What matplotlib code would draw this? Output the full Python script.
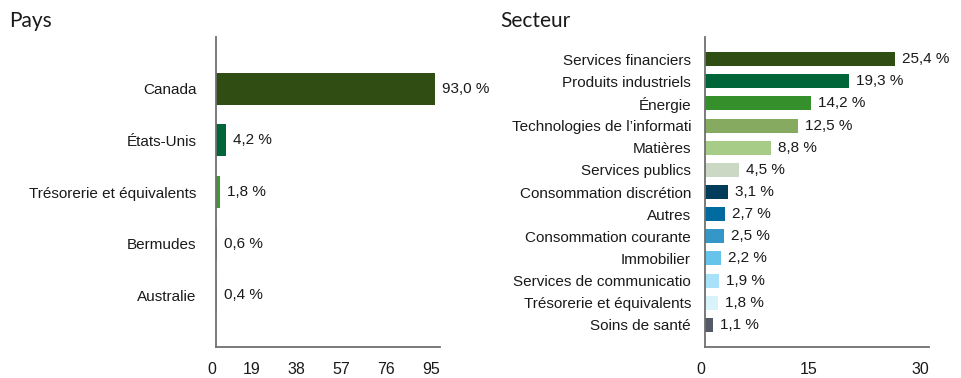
import matplotlib
matplotlib.use("Agg")
import matplotlib.pyplot as plt
from matplotlib import font_manager

# repartition par pays
pays = ["Canada", "États-Unis", "Trésorerie et équivalents", "Bermudes", "Australie"]
pays_vals = [93.0, 4.2, 1.8, 0.6, 0.4]
pays_colors = ["#304e13", "#00663a", "#3a9a30", "#88aa60", "#a8cc88"]
pays_ticks = [0, 19, 38, 57, 76, 95]

# repartition par secteur
secteurs = ["Services financiers", "Produits industriels", "Énergie",
            "Technologies de l\u2019informati", "Matières", "Services publics",
            "Consommation discrétion", "Autres", "Consommation courante",
            "Immobilier", "Services de communicatio",
            "Trésorerie et équivalents", "Soins de santé"]
secteur_vals = [25.4, 19.3, 14.2, 12.5, 8.8, 4.5, 3.1, 2.7, 2.5, 2.2, 1.9, 1.8, 1.1]
secteur_colors = ["#304e13", "#00663a", "#358f2a", "#86aa60", "#a6cc88", "#cbd8c4",
                  "#003b5a", "#006b9e", "#3597c8", "#66c3ea", "#a9e1f8",
                  "#d9f3fb", "#545a66"]
secteur_ticks = [0, 15, 30]

names = {f.name for f in font_manager.fontManager.ttflist}
label_font = ["Liberation Sans Narrow", "DejaVu Sans"] if "Liberation Sans Narrow" in names \
    else ["Liberation Sans", "DejaVu Sans"]
title_font = ["Lato", "DejaVu Sans"]

fig = plt.figure(figsize=(9.62, 3.78), dpi=100)


def fmt(v):
    return f"{v:.1f}".replace(".", ",") + " %"


def draw(ax, cats, vals, colors, ticks, xmax, height, ypad):
    pos = list(range(len(cats)))
    ax.barh(pos, vals, height=height, color=colors)
    ax.set_xlim(0, xmax)
    ax.set_ylim(len(cats), -1)
    ax.set_yticks(pos)
    ax.set_yticklabels(cats, family=label_font, fontsize=11)
    ax.set_xticks(ticks)
    # tick numbers sit right-aligned on their tick
    ax.set_xticklabels([str(t) for t in ticks], family=label_font, fontsize=11.5,
                       ha="right")
    ax.tick_params(axis="y", length=0, pad=ypad, colors="#1a1a1a")
    ax.tick_params(axis="x", length=0, pad=11, colors="#1a1a1a")
    for s in ["top", "right"]:
        ax.spines[s].set_visible(False)
    for s in ["left", "bottom"]:
        ax.spines[s].set_color("#6f6f6f")
        ax.spines[s].set_linewidth(1.3)
    for p, v in zip(pos, vals):
        ax.annotate(fmt(v), (v, p), xytext=(5, 0), textcoords="offset points",
                    va="center", ha="left", family=label_font, fontsize=11,
                    color="#1a1a1a")


ax1 = fig.add_axes([0.2245, 0.082, 0.2325, 0.820])
draw(ax1, pays, pays_vals, pays_colors, pays_ticks, 95, 0.62, 14)

ax2 = fig.add_axes([0.7328, 0.082, 0.2333, 0.820])
draw(ax2, secteurs, secteur_vals, secteur_colors, secteur_ticks, 30, 0.63, 10)

fig.text(0.010, 0.945, "Pays", family=title_font, fontsize=15, va="center", color="#1a1a1a")
fig.text(0.520, 0.945, "Secteur", family=title_font, fontsize=15, va="center", color="#1a1a1a")

fig.savefig("out.png", dpi=100)
